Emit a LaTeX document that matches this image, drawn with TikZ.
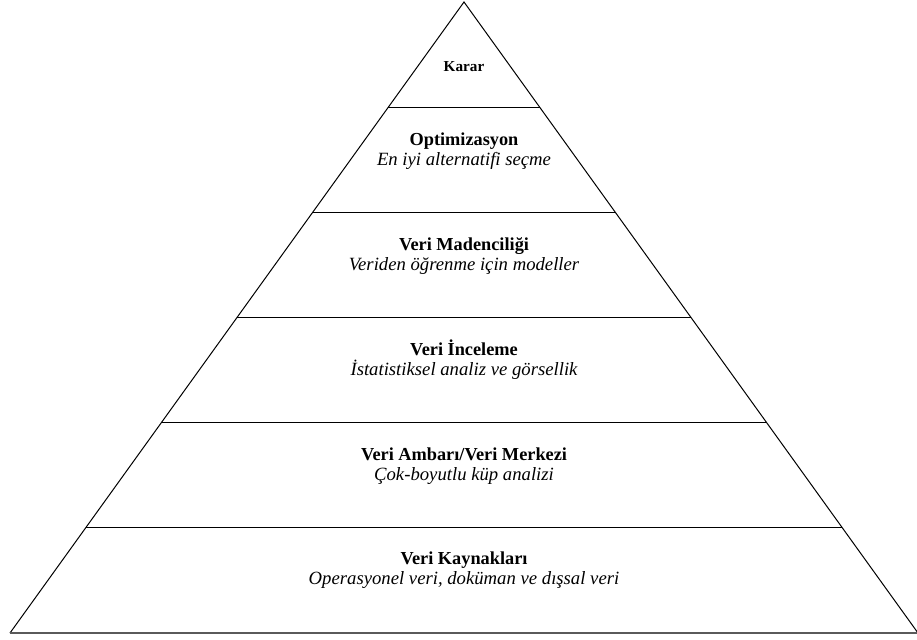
\documentclass[tikz,border=0pt]{standalone}
\usepackage{fontspec}
\setmainfont{Liberation Serif}
\usetikzlibrary{calc}
\definecolor{basegray}{RGB}{90,90,90}
\begin{document}
\begin{tikzpicture}[x=1pt,y=-1pt,
  edge/.style={line width=1pt, black},
  divider/.style={line width=1.3pt, black},
  baseedge/.style={line width=1.8pt, basegray},
  toptitle/.style={font=\fontsize{15.2}{18}\selectfont\bfseries, anchor=base, inner sep=0pt},
  title/.style={font=\fontsize{18.3}{21}\selectfont\bfseries, anchor=base, inner sep=0pt},
  subtitle/.style={font=\fontsize{18.7}{22}\selectfont\itshape, anchor=base, inner sep=0pt},
]
\useasboundingbox (0,0) rectangle (917,639);

% outline of the pyramid
\coordinate (apex) at (464,2);
\coordinate (bl) at (10,633);
\coordinate (br) at (918,633);
\draw[edge] (bl) -- (apex) -- (br);
\draw[baseedge] (bl) -- (br);

% horizontal dividers between the six levels
\foreach \k in {1,...,5}{
  \coordinate (l\k) at ($(apex)!\k/6!(bl)$);
  \coordinate (r\k) at ($(apex)!\k/6!(br)$);
  \draw[divider] (l\k) -- (r\k);
}

% level texts
\node[toptitle] (karar) at (464,71.5) {Karar};

\node[title] (opt) at (464,146) {Optimizasyon};
\node[subtitle] (optsub) at (464,166) {En iyi alternatifi seçme};

\node[title] (vm) at (464,250) {Veri Madenciliği};
\node[subtitle] (vmsub) at (464,270) {Veriden öğrenme için modeller};

\node[title] (vi) at (464,355) {Veri İnceleme};
\node[subtitle] (visub) at (464,375) {İstatistiksel analiz ve görsellik};

\node[title] (va) at (464,460) {Veri Ambarı/Veri Merkezi};
\node[subtitle] (vasub) at (464,480) {Çok-boyutlu küp analizi};

\node[title] (vk) at (464,564) {Veri Kaynakları};
\node[subtitle] (vksub) at (464,584) {Operasyonel veri, doküman ve dışsal veri};
\end{tikzpicture}
\end{document}
